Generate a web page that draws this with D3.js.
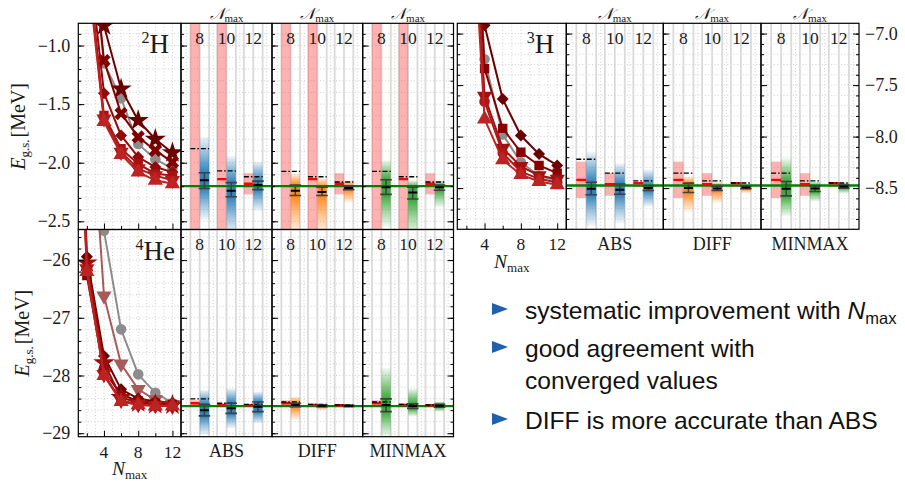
<!DOCTYPE html>
<html>
<head>
<meta charset="utf-8">
<script src="https://cdn.jsdelivr.net/npm/d3@7"></script>
<style>
body { margin: 0; background: #fff; }
svg { display: block; }
</style>
</head>
<body>
<svg id="chart" width="905" height="481"></svg>
<script>
// ---- data ----
var nmaxLight = [2, 4, 6, 8, 10, 12];
var nmaxHe4 = [0, 2, 4, 6, 8, 10, 12];
var nmaxSub = [8, 10, 12];
var methods = ["ABS", "DIFF", "MINMAX"];
var methodColors = ["#1f77b4", "#ff7f0e", "#2ca02c"];

// 2H convergence curves
var h2Markers = ["circle", "star", "x", "diamond", "square", "triDown", "triUp"];
var h2Colors = ["#8c8c8c", "#6a0000", "#800000", "#930808", "#a51111", "#b01a1a", "#bd2323"];
var h2Energies = [
	[0.2, -1.15, -1.45, -1.84, -1.97, -2.05],
	[0.6, -0.83, -1.37, -1.64, -1.80, -1.915],
	[0.3, -1.128, -1.58, -1.78, -1.895, -1.995],
	[-0.1, -1.406, -1.767, -1.952, -2.037, -2.08],
	[-0.2, -1.597, -1.88, -2.01, -2.094, -2.11],
	[-0.25, -1.625, -1.91, -2.05, -2.11, -2.15],
	[-0.3, -1.65, -1.93, -2.08, -2.15, -2.18]
];
var h2Exact = -2.20;
var h2PinkLo = [-3.0, -3.0, -2.27];
var h2PinkHi = [0.0, 0.0, -2.09];
var h2Red = [null, -2.14, -2.18];
var h2Dash = [[-1.88, -2.07, -2.12], [-2.074, -2.12, -2.165], [-2.074, -2.12, -2.165]];
var h2DistHi = [[-1.78, -1.94, -1.99], [-2.09, -2.13, -2.15], [-1.98, -2.15, -2.15]];
var h2DistLo = [[-2.49, -2.62, -2.41], [-2.62, -2.62, -2.34], [-2.55, -2.62, -2.38]];
var h2ErrHi = [[-2.085, -2.17, -2.157], [-2.19, -2.21, -2.20], [-2.145, -2.21, -2.19]];
var h2ErrLo = [[-2.22, -2.29, -2.23], [-2.28, -2.28, -2.23], [-2.27, -2.31, -2.235]];
var h2Mid = [[-2.15, -2.24, -2.19], [-2.24, -2.25, -2.215], [-2.21, -2.255, -2.21]];

// 3H convergence curves
var h3Markers = ["circle", "diamond", "square", "triDown", "circle", "triUp"];
var h3Colors = ["#8c8c8c", "#6a0000", "#860000", "#a01010", "#ad1717", "#bd2323"];
var h3Energies = [
	[-4.2, -7.25, -7.98, -8.25, -8.38, -8.43],
	[-3.0, -6.92, -7.636, -7.99, -8.17, -8.28],
	[-4.0, -7.34, -7.92, -8.152, -8.28, -8.355],
	[-4.5, -7.607, -8.113, -8.29, -8.378, -8.413],
	[-4.6, -7.66, -8.16, -8.34, -8.41, -8.446],
	[-4.8, -7.83, -8.226, -8.37, -8.436, -8.468]
];
var h3Exact = -8.475;
var h3PinkLo = [-8.597, -8.575, -8.49];
var h3PinkHi = [-8.243, -8.355, -8.44];
var h3Red = [-8.42, -8.462, -8.452];
var h3Dash = [[-8.22, -8.355, -8.43], [-8.355, -8.43, -8.45], [-8.355, -8.43, -8.45]];
var h3DistHi = [[-8.146, -8.26, -8.32], [-8.39, -8.436, -8.49], [-8.21, -8.436, -8.445]];
var h3DistLo = [[-8.87, -8.84, -8.68], [-8.73, -8.645, -8.55], [-8.775, -8.63, -8.55]];
var h3ErrHi = [[-8.443, -8.46, -8.478], [-8.452, -8.485, -8.48], [-8.436, -8.478, -8.47]];
var h3ErrLo = [[-8.565, -8.56, -8.523], [-8.543, -8.524, -8.505], [-8.575, -8.533, -8.50]];
var h3Mid = [[-8.507, -8.517, -8.50], [-8.50, -8.505, -8.493], [-8.507, -8.505, -8.485]];

// 4He convergence curves
var he4Markers = ["circle", "triDown", "diamond", "square", "star", "triDown", "triUp"];
var he4Colors = ["#8c8c8c", "#a65a5a", "#6a0000", "#860000", "#9c0c0c", "#ad1717", "#bd2323"];
var he4Energies = [
	[null, -21.0, -25.49, -27.2, -27.98, -28.3, -28.475],
	[null, -22.2, -26.62, -27.8, -28.24, -28.42, -28.5],
	[-17.0, -25.94, -27.66, -28.24, -28.40, -28.45, -28.48],
	[-17.5, -26.27, -27.92, -28.33, -28.44, -28.48, -28.5],
	[-17.2, -26.05, -27.78, -28.38, -28.47, -28.50, -28.51],
	[-17.8, -26.15, -27.98, -28.43, -28.50, -28.52, -28.53],
	[-18.0, -26.2, -28.0, -28.45, -28.51, -28.53, -28.53]
];
var he4Exact = -28.53;
var he4PinkLo = [-28.52, -28.53, -28.53];
var he4PinkHi = [-28.43, -28.49, -28.50];
var he4Red = [-28.48, -28.51, -28.515];
var he4Dash = [[-28.405, -28.48, -28.50], [-28.46, -28.50, -28.51], [-28.46, -28.50, -28.51]];
var he4DistHi = [[-28.25, -28.22, -28.28], [-28.365, -28.49, -28.50], [-27.87, -28.22, -28.45]];
var he4DistLo = [[-29.03, -28.915, -28.83], [-28.77, -28.60, -28.57], [-29.06, -28.71, -28.625]];
var he4ErrHi = [[-28.50, -28.48, -28.46], [-28.48, -28.51, -28.515], [-28.405, -28.49, -28.50]];
var he4ErrLo = [[-28.70, -28.655, -28.625], [-28.54, -28.54, -28.535], [-28.625, -28.57, -28.55]];
var he4Mid = [[-28.60, -28.567, -28.54], [-28.51, -28.525, -28.525], [-28.51, -28.53, -28.525]];

var bulletTexts = ["systematic improvement with", "good agreement with", "converged values", "DIFF is more accurate than ABS"];

// ---- drawing ----
var svg = d3.select("#chart");
var defs = svg.append("defs");
var serif = "'Liberation Serif', 'DejaVu Serif', serif";
var sans = "'Liberation Sans', Arial, sans-serif";
var ink = "#1a1a1a";
var gridColor = "#c4c4c4";

var markerTypes = {circle: d3.symbolCircle, square: d3.symbolSquare, diamond: d3.symbolSquare,
	triUp: d3.symbolTriangle, triDown: d3.symbolTriangle, star: d3.symbolStar, x: d3.symbolCross};
var markerRotate = {diamond: 45, triDown: 180, x: 45};
var markerSize = {circle: 88, square: 88, diamond: 72, triUp: 100, triDown: 100, star: 140, x: 110};

var rows = [
	{id: "h2", cols: [78.3, 181, 272, 362.7, 453.5], y: d3.scaleLinear().domain([-2.57, -0.81]).range([229.5, 23.3]),
		majors: [-1.0, -1.5, -2.0, -2.5], minors: d3.range(-2.5, -0.85, 0.1), fmt: d3.format(".1f"),
		labels: "left", xlabels: false, topLabel: true, name: ["2", "H"],
		nvals: nmaxLight, energies: h2Energies, colors: h2Colors, markers: h2Markers, exact: h2Exact,
		pinkLo: h2PinkLo, pinkHi: h2PinkHi, red: h2Red, dash: h2Dash, distHi: h2DistHi, distLo: h2DistLo,
		errHi: h2ErrHi, errLo: h2ErrLo, mid: h2Mid, ylabX: 25},
	{id: "he4", cols: [78.3, 181, 272, 362.7, 453.5], y: d3.scaleLinear().domain([-29.06, -25.47]).range([436.7, 229.5]),
		majors: [-26, -27, -28, -29], minors: d3.range(-29, -25.45, 0.2), fmt: d3.format("d"),
		labels: "left", xlabels: true, topLabel: false, name: ["4", "He"],
		nvals: nmaxHe4, energies: he4Energies, colors: he4Colors, markers: he4Markers, exact: he4Exact,
		pinkLo: he4PinkLo, pinkHi: he4PinkHi, red: he4Red, dash: he4Dash, distHi: he4DistHi, distLo: he4DistLo,
		errHi: he4ErrHi, errLo: he4ErrLo, mid: he4Mid, ylabX: 29},
	{id: "h3", cols: [457.3, 566.3, 663.3, 761, 859], y: d3.scaleLinear().domain([-8.90, -6.90]).range([229.3, 23.3]),
		majors: [-7.0, -7.5, -8.0, -8.5], minors: d3.range(-8.8, -6.95, 0.1), fmt: d3.format(".1f"),
		labels: "right", xlabels: true, topLabel: true, name: ["3", "H"],
		nvals: nmaxLight, energies: h3Energies, colors: h3Colors, markers: h3Markers, exact: h3Exact,
		pinkLo: h3PinkLo, pinkHi: h3PinkHi, red: h3Red, dash: h3Dash, distHi: h3DistHi, distLo: h3DistLo,
		errHi: h3ErrHi, errLo: h3ErrLo, mid: h3Mid}
];

function hline(g, x1, x2, yv, color, width, dash) {
	var l = g.append("line").attr("x1", x1).attr("x2", x2).attr("y1", yv).attr("y2", yv)
		.attr("stroke", color).attr("stroke-width", width);
	if (dash) l.attr("stroke-dasharray", dash);
	return l;
}

function drawMain(r, inner, x0, x1, y) {
	var x = d3.scaleLinear().domain([1, 13]).range([x0, x1]);
	var top = y.range()[1], bottom = y.range()[0];
	inner.selectAll(null).data(d3.range(2, 13)).enter().append("line")
		.attr("x1", function (d) { return x(d); }).attr("x2", function (d) { return x(d); })
		.attr("y1", top).attr("y2", bottom)
		.attr("stroke", gridColor).attr("stroke-width", 0.8).attr("stroke-dasharray", "1,2.2");

	var line = d3.line().x(function (d) { return x(d.n); }).y(function (d) { return y(d.e); });
	r.energies.forEach(function (vals, i) {
		var pts = r.nvals.map(function (n, j) { return {n: n, e: vals[j]}; })
			.filter(function (d) { return d.e !== null; });
		var m = r.markers[i];
		inner.append("path").datum(pts).attr("d", line)
			.attr("fill", "none").attr("stroke", r.colors[i]).attr("stroke-width", 2);
		inner.selectAll(null).data(pts).enter().append("path")
			.attr("d", d3.symbol().type(markerTypes[m]).size(markerSize[m])())
			.attr("transform", function (d) { return "translate(" + x(d.n) + "," + y(d.e) + ") rotate(" + (markerRotate[m] || 0) + ")"; })
			.attr("fill", r.colors[i]);
	});

	// bottom ticks
	var bt = svg.append("g").attr("transform", "translate(0," + bottom + ")");
	bt.call(d3.axisTop(x).tickValues([2, 6, 10]).tickSize(3.5).tickFormat(""));
	bt.append("g").call(d3.axisTop(x).tickValues([4, 8, 12]).tickSize(6).tickFormat(""));
	bt.selectAll(".domain").remove();

	if (r.xlabels) {
		svg.append("g").selectAll(null).data([4, 8, 12]).enter().append("text")
			.attr("x", function (d) { return x(d); }).attr("y", bottom + 21)
			.attr("text-anchor", "middle").attr("font-family", serif).attr("font-size", 17.5).attr("fill", ink)
			.text(function (d) { return d; });
		var nl = svg.append("text").attr("x", (x0 + x1) / 2).attr("y", bottom + 38.5)
			.attr("text-anchor", "middle").attr("font-family", serif).attr("fill", ink);
		nl.append("tspan").attr("font-style", "italic").attr("font-size", 19.5).text("N");
		nl.append("tspan").attr("font-size", 13).attr("dy", 4).text("max");
	}

	// nucleus label
	var t = svg.append("text").attr("x", x1 - (r.id === "he4" ? 6 : 12)).attr("y", top + 30)
		.attr("text-anchor", "end").attr("font-family", serif).attr("fill", ink);
	t.append("tspan").attr("font-size", 16).attr("dy", -10).text(r.name[0]);
	t.append("tspan").attr("font-size", 27).attr("dy", 10).text(r.name[1]);
}

function drawSub(r, inner, x0, x1, y, m, pid) {
	var xs = d3.scaleLinear().domain([6.6, 13.4]).range([x0, x1]);
	var top = y.range()[1], bottom = y.range()[0];
	var color = methodColors[m];

	inner.selectAll(null).data([7, 9, 11, 13]).enter().append("line")
		.attr("x1", function (d) { return xs(d); }).attr("x2", function (d) { return xs(d); })
		.attr("y1", top).attr("y2", bottom)
		.attr("stroke", gridColor).attr("stroke-width", 0.8).attr("stroke-dasharray", "1,2.2");

	nmaxSub.forEach(function (n) {
		[-0.7, 0, 0.7].forEach(function (off) {
			inner.append("line").attr("x1", xs(n + off)).attr("x2", xs(n + off))
				.attr("y1", top).attr("y2", bottom).attr("stroke", "#dadada").attr("stroke-width", 1.8);
		});
	});

	nmaxSub.forEach(function (n, k) {
		// extrapolation band
		inner.append("rect").attr("x", xs(n - 0.7)).attr("width", xs(n) - xs(n - 0.7))
			.attr("y", y(r.pinkHi[k])).attr("height", y(r.pinkLo[k]) - y(r.pinkHi[k]))
			.attr("fill", "#ff0000").attr("fill-opacity", 0.3);

		// sampled distribution, shaded as a vertical gradient
		var yTop = y(r.distHi[m][k]), yBot = y(r.distLo[m][k]), h = yBot - yTop;
		var gid = "g-" + pid + "-" + k;
		var grad = defs.append("linearGradient").attr("id", gid)
			.attr("x1", 0).attr("y1", 0).attr("x2", 0).attr("y2", 1);
		var oHi = (y(r.errHi[m][k]) - yTop) / h, oLo = (y(r.errLo[m][k]) - yTop) / h;
		[[0, 0.06], [oHi * 0.5, 0.5], [oHi, 0.92], [oLo, 0.92], [oLo + (1 - oLo) * 0.5, 0.45], [1, 0.05]].forEach(function (s) {
			grad.append("stop").attr("offset", Math.max(0, Math.min(1, s[0]))).attr("stop-color", color).attr("stop-opacity", s[1]);
		});
		inner.append("rect").attr("x", xs(n)).attr("width", xs(n + 0.7) - xs(n))
			.attr("y", yTop).attr("height", h).attr("fill", "url(#" + gid + ")");
	});

	hline(inner, x0, x1, y(r.exact), "#008000", 2.4);

	nmaxSub.forEach(function (n, k) {
		if (r.red[k] !== null) hline(inner, xs(n - 0.7), xs(n), y(r.red[k]), "#ff0000", 2.4);
		hline(inner, xs(n - 0.7), xs(n + 0.7), y(r.dash[m][k]), "#000", 1.4, "5,2,1.5,2");
		var xc = xs(n + 0.35), cw = 5.8;
		inner.append("line").attr("x1", xc).attr("x2", xc)
			.attr("y1", y(r.errHi[m][k])).attr("y2", y(r.errLo[m][k]))
			.attr("stroke", "#404040").attr("stroke-width", 1.5);
		hline(inner, xc - cw, xc + cw, y(r.errHi[m][k]), "#404040", 1.6);
		hline(inner, xc - cw, xc + cw, y(r.errLo[m][k]), "#404040", 1.6);
		hline(inner, xc - 4.5, xc + 4.5, y(r.mid[m][k]), "#000", 2);
	});

	// Nmax numbers inside the panel
	svg.append("g").selectAll(null).data(nmaxSub).enter().append("text")
		.attr("x", function (d) { return xs(d); }).attr("y", top + 20.5)
		.attr("text-anchor", "middle").attr("font-family", serif).attr("font-size", 17.5).attr("fill", ink)
		.text(function (d) { return d; });

	if (r.topLabel) {
		var t = svg.append("text").attr("x", (x0 + x1) / 2).attr("y", top - 4.5)
			.attr("text-anchor", "middle").attr("font-family", serif).attr("fill", ink);
		t.append("tspan").attr("font-size", 16).attr("font-style", "italic").text("\uD835\uDCA9");
		t.append("tspan").attr("font-size", 11).attr("dy", 3).text("max");
	}
	if (r.xlabels) {
		svg.append("text").attr("x", (x0 + x1) / 2).attr("y", bottom + 20.5)
			.attr("text-anchor", "middle").attr("font-family", serif).attr("font-size", 18).attr("fill", ink)
			.text(methods[m]);
	}
}

rows.forEach(function (r) {
	var y = r.y, top = y.range()[1], bottom = y.range()[0];
	for (var p = 0; p < 4; p++) {
		var x0 = r.cols[p], x1 = r.cols[p + 1];
		var pid = r.id + p;
		defs.append("clipPath").attr("id", "clip-" + pid).append("rect")
			.attr("x", x0).attr("y", top).attr("width", x1 - x0).attr("height", bottom - top);
		var inner = svg.append("g").attr("clip-path", "url(#clip-" + pid + ")");
		inner.selectAll(null).data(r.minors).enter().append("line")
			.attr("x1", x0).attr("x2", x1)
			.attr("y1", function (d) { return y(d); }).attr("y2", function (d) { return y(d); })
			.attr("stroke", gridColor).attr("stroke-width", 0.8).attr("stroke-dasharray", "1,2.2");

		if (p === 0) drawMain(r, inner, x0, x1, y);
		else drawSub(r, inner, x0, x1, y, p - 1, pid);

		// inward ticks on the left edge
		var lt = svg.append("g").attr("transform", "translate(" + x0 + ",0)");
		lt.call(d3.axisRight(y).tickValues(r.minors).tickSize(3).tickFormat(""));
		lt.append("g").call(d3.axisRight(y).tickValues(r.majors).tickSize(6).tickFormat(""));
		lt.selectAll(".domain").remove();

		svg.append("rect").attr("x", x0).attr("y", top).attr("width", x1 - x0).attr("height", bottom - top)
			.attr("fill", "none").attr("stroke", "#000").attr("stroke-width", 1.2);
	}

	// ticks on the far right edge
	var xr = r.cols[4];
	var rt = svg.append("g").attr("transform", "translate(" + xr + ",0)");
	rt.call(d3.axisLeft(y).tickValues(r.minors).tickSize(3).tickFormat(""));
	rt.append("g").call(d3.axisLeft(y).tickValues(r.majors).tickSize(6).tickFormat(""));
	rt.selectAll(".domain").remove();

	// y tick labels
	var labG = svg.append("g").attr("font-family", serif).attr("font-size", 18).attr("fill", ink);
	labG.selectAll(null).data(r.majors).enter().append("text")
		.attr("x", r.labels === "left" ? r.cols[0] - 8 : xr + 6)
		.attr("y", function (d) { return y(d) + 6; })
		.attr("text-anchor", r.labels === "left" ? "end" : "start")
		.text(function (d) { return r.fmt(d); });

	if (r.labels === "left") {
		var yl = svg.append("text")
			.attr("transform", "translate(" + r.ylabX + "," + ((top + bottom) / 2) + ") rotate(-90)")
			.attr("text-anchor", "middle").attr("font-family", serif).attr("fill", ink);
		yl.append("tspan").attr("font-style", "italic").attr("font-size", 20).text("E");
		yl.append("tspan").attr("font-size", 13).attr("dy", 4).text("g.s.");
		yl.append("tspan").attr("font-size", 20).attr("dy", -4).attr("dx", 2).text("[MeV]");
	}
});

// ---- summary bullets ----
var bulletBase = [319, 357, 389, 429];
var bulletHasMark = [true, true, false, true];
bulletTexts.forEach(function (txt, i) {
	var yb = bulletBase[i];
	if (bulletHasMark[i]) {
		svg.append("path")
			.attr("d", "M492," + (yb - 16) + "L508," + (yb - 10) + "L492," + (yb - 4) + "Z")
			.attr("fill", "#1f5fae");
	}
	var t = svg.append("text").attr("x", 525).attr("y", yb)
		.attr("font-family", sans).attr("font-size", 24.6).attr("fill", "#111");
	t.append("tspan").text(txt);
	if (i === 0) {
		t.append("tspan").attr("font-style", "italic").text(" N");
		t.append("tspan").attr("font-size", 16.5).attr("dy", 5).text("max");
	}
});
</script>
</body>
</html>
